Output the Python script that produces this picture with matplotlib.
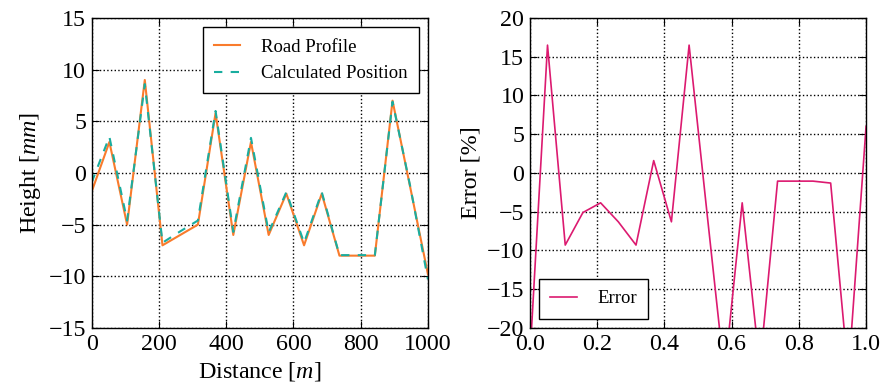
import numpy as np
import matplotlib
matplotlib.use("Agg")
import matplotlib.pyplot as plt

plt.rcParams.update({
    "font.family": "serif",
    "font.serif": ["Liberation Serif", "DejaVu Serif"],
    "mathtext.fontset": "custom",
    "mathtext.rm": "Liberation Serif",
    "mathtext.it": "Liberation Serif:italic",
    "font.size": 17.3,
    "xtick.direction": "in",
    "ytick.direction": "in",
    "xtick.top": True,
    "ytick.right": True,
    "xtick.major.size": 5,
    "ytick.major.size": 5,
    "xtick.major.pad": 4,
    "ytick.major.pad": 4,
    "axes.linewidth": 1.0,
})

# Sample positions along the road [m]
distance = [0, 52.6, 105.3, 157.9, 210.5, 263.2, 315.8, 368.4, 421.1, 473.7,
            526.3, 578.9, 631.6, 684.2, 736.8, 789.5, 842.1, 894.7, 947.4, 1000]

# Road height profile [mm]
road_profile = [-1.8, 3.0, -5.0, 9.0, -7.0, -6.0, -5.0, 5.8, -6.0, 3.0,
                -6.0, -2.0, -7.0, -2.0, -8.0, -8.0, -8.0, 7.0, -1.4, -9.8]

# Position estimated by the filter [mm]
calculated_position = [-0.9, 3.5, -4.6, 8.6, -6.75, -5.65, -4.6, 6.0, -5.7, 3.4,
                       -5.75, -1.85, -6.75, -1.85, -7.95, -7.95, -7.95, 6.9, -1.3, -10.3]

# Relative error [%] over normalised distance
error_pct = [-24.0, 16.5, -9.3, -5.1, -3.85, -6.3, -9.3, 1.6, -6.3, 16.5,
             -4.9, -26.0, -3.85, -25.0, -1.05, -1.05, -1.05, -1.3, -26.0, 6.0]

left_yticks = [-15, -10, -5, 0, 5, 10, 15]
left_xticks = [0, 200, 400, 600, 800, 1000]
right_yticks = [-20, -15, -10, -5, 0, 5, 10, 15, 20]
right_xticks = [0.0, 0.2, 0.4, 0.6, 0.8, 1.0]

c_road = "#f97b2c"
c_calc = "#19ad9f"
c_err = "#dc1a70"

fig = plt.figure(figsize=(8.86, 3.87), dpi=100)
ax1 = fig.add_axes([0.1035, 0.1525, 0.3795, 0.801])
ax2 = fig.add_axes([0.598, 0.1525, 0.3795, 0.801])

grid_kw = dict(color="black", linestyle=":", linewidth=1.0)
legend_kw = dict(fontsize=13.5, fancybox=False, edgecolor="black", framealpha=1.0,
                 handlelength=1.4, handletextpad=1.1, borderpad=0.6)

# Height comparison
ax1.plot(distance, road_profile, color=c_road, lw=1.5, label="Road Profile")
ax1.plot(distance, calculated_position, color=c_calc, lw=1.5, dashes=(4, 4),
         label="Calculated Position")
ax1.set_xlim(0, 1000)
ax1.set_ylim(-15, 15)
ax1.set_xticks(left_xticks)
ax1.set_yticks(left_yticks)
ax1.grid(True, **grid_kw)
ax1.set_xlabel(r"Distance [$m$]")
ax1.set_ylabel(r"Height [$mm$]")
leg1 = ax1.legend(loc="upper right", **legend_kw)
leg1.get_frame().set_linewidth(1.0)

# Relative error
dist_norm = [d / 1000 for d in distance]
ax2.plot(dist_norm, error_pct, color=c_err, lw=1.2, label="Error")
ax2.set_xlim(0, 1.0)
ax2.set_ylim(-20, 20)
ax2.set_xticks(right_xticks)
ax2.set_yticks(right_yticks)
ax2.grid(True, **grid_kw)
ax2.set_ylabel(r"Error [%]")
leg2 = ax2.legend(loc="lower left", **legend_kw)
leg2.get_frame().set_linewidth(1.0)

fig.savefig("out.png", dpi=100)
